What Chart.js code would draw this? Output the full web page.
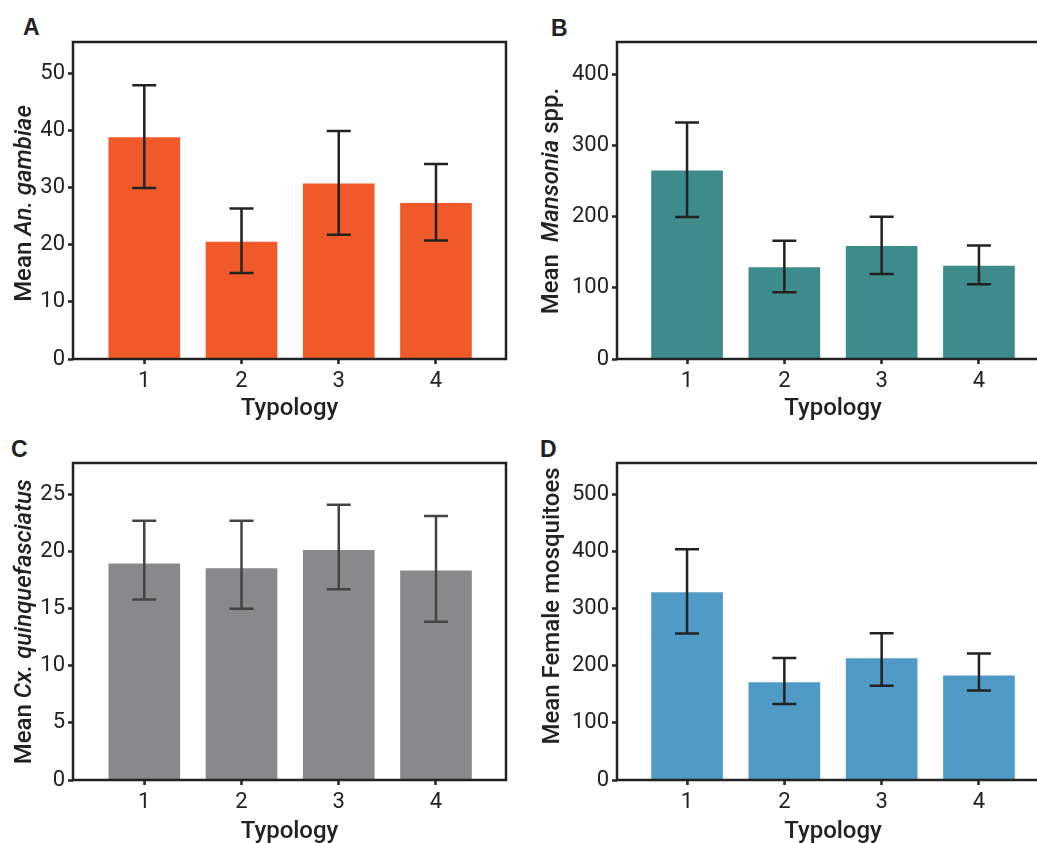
<!DOCTYPE html>
<html lang="en">

<head>
    <meta charset="UTF-8">
    <title>Mean mosquitoes by typology</title>
    <script src="https://cdn.jsdelivr.net/npm/chart.js"></script>
    <style>
        body {
            margin: 0;
            background: #fff;
            overflow: hidden;
            width: 1037px;
            height: 843px;
            position: relative;
        }

        canvas {
            position: absolute;
        }

        .letter {
            position: absolute;
            font: bold 23px "Liberation Sans", Arial, sans-serif;
            line-height: 23px;
            color: #222;
        }
    </style>
</head>

<body>
    <div class="letter" style="left:23px; top:16px">A</div>
    <div class="letter" style="left:551px; top:17px">B</div>
    <div class="letter" style="left:11px; top:438px">C</div>
    <div class="letter" style="left:540px; top:438px">D</div>

    <canvas id="chartA" width="520" height="420" style="left:0; top:0"></canvas>
    <canvas id="chartB" width="540" height="420" style="left:520px; top:0"></canvas>
    <canvas id="chartC" width="520" height="423" style="left:0; top:420px"></canvas>
    <canvas id="chartD" width="540" height="423" style="left:520px; top:420px"></canvas>

    <script>
        // categories
        const typology = [1, 2, 3, 4];

        // A - An. gambiae
        const gambiaeMean = [39.0, 20.7, 30.9, 27.5];
        const gambiaeLow = [30.0, 15.1, 21.8, 20.8];
        const gambiaeHigh = [48.0, 26.4, 40.0, 34.2];
        const gambiaeTicks = [0, 10, 20, 30, 40, 50];

        // B - Mansonia spp.
        const mansoniaMean = [265.7, 129.6, 159.5, 132.0];
        const mansoniaLow = [199.3, 93.6, 119.3, 104.8];
        const mansoniaHigh = [332.0, 166.0, 199.7, 159.5];
        const mansoniaTicks = [0, 100, 200, 300, 400];

        // C - Cx. quinquefasciatus
        const culexMean = [19.0, 18.6, 20.2, 18.4];
        const culexLow = [15.8, 15.0, 16.7, 13.85];
        const culexHigh = [22.7, 22.7, 24.1, 23.1];
        const culexTicks = [0, 5, 10, 15, 20, 25];

        // D - all female mosquitoes
        const femaleMean = [330.0, 172.6, 214.7, 184.3];
        const femaleLow = [256.7, 133.0, 165.0, 157.0];
        const femaleHigh = [404.4, 214.0, 257.3, 221.7];
        const femaleTicks = [0, 100, 200, 300, 400, 500];

        const ink = '#222';
        const tickFont = { family: 'Roboto', size: 22 };
        const titleFont = { family: 'Roboto', size: 24, weight: '500' };

        // draws the frame, the error bars and the mixed-style y title
        const panelExtras = {
            id: 'panelExtras',
            afterDatasetsDraw(chart, args, opts) {
                const ctx = chart.ctx;
                const area = chart.chartArea;
                const x = chart.scales.x;
                const y = chart.scales.y;

                ctx.save();
                ctx.strokeStyle = ink;
                ctx.lineWidth = 2.5;
                ctx.strokeRect(area.left, area.top, area.right - area.left, area.bottom - area.top);

                // error bars
                ctx.strokeStyle = opts.barColor;
                ctx.lineWidth = 2.5;
                typology.forEach((t, i) => {
                    const px = x.getPixelForValue(t);
                    const lo = y.getPixelForValue(opts.low[i]);
                    const hi = y.getPixelForValue(opts.high[i]);
                    ctx.beginPath();
                    ctx.moveTo(px, lo);
                    ctx.lineTo(px, hi);
                    ctx.moveTo(px - 12, lo);
                    ctx.lineTo(px + 12, lo);
                    ctx.moveTo(px - 12, hi);
                    ctx.lineTo(px + 12, hi);
                    ctx.stroke();
                });

                // y axis title, pieces can be italic
                ctx.fillStyle = ink;
                ctx.textBaseline = 'alphabetic';
                ctx.textAlign = 'left';
                const fonts = opts.title.map(p => (p[1] ? 'italic ' : '') + '500 24px Roboto');
                let total = 0;
                opts.title.forEach((p, i) => {
                    ctx.font = fonts[i];
                    total += ctx.measureText(p[0]).width;
                });
                ctx.translate(opts.titleX, opts.titleY);
                ctx.rotate(-Math.PI / 2);
                let pos = -total / 2;
                opts.title.forEach((p, i) => {
                    ctx.font = fonts[i];
                    ctx.fillText(p[0], pos, 0);
                    pos += ctx.measureText(p[0]).width;
                });
                ctx.restore();
            }
        };

        function makePanel(id, cfg) {
            return new Chart(document.getElementById(id), {
                type: 'bar',
                data: {
                    datasets: [{
                        data: typology.map((t, i) => ({ x: t, y: cfg.mean[i] })),
                        backgroundColor: cfg.color,
                        borderColor: 'rgba(255,255,255,0.45)',
                        borderWidth: 1,
                        barThickness: 73
                    }]
                },
                plugins: [panelExtras],
                options: {
                    responsive: false,
                    animation: false,
                    devicePixelRatio: 1,
                    layout: { padding: { top: cfg.top, right: cfg.right, left: 0, bottom: 0 } },
                    plugins: {
                        legend: { display: false },
                        tooltip: { enabled: false },
                        panelExtras: {
                            low: cfg.low,
                            high: cfg.high,
                            barColor: cfg.errColor || ink,
                            title: cfg.title,
                            titleX: cfg.titleX,
                            titleY: cfg.titleY
                        }
                    },
                    scales: {
                        x: {
                            type: 'linear',
                            offset: false,
                            min: cfg.xMin,
                            max: cfg.xMax,
                            afterBuildTicks: s => { s.ticks = typology.map(v => ({ value: v })); },
                            afterFit: s => { s.height = cfg.xHeight; },
                            ticks: { font: tickFont, color: ink, padding: 4, maxRotation: 0 },
                            grid: { offset: false, drawOnChartArea: false, drawTicks: true, tickLength: 5, tickWidth: 2.5, tickColor: ink },
                            border: { display: false },
                            title: { display: true, text: 'Typology', font: titleFont, color: ink, padding: { top: 0, bottom: -3 } }
                        },
                        y: {
                            min: 0,
                            max: cfg.yMax,
                            afterBuildTicks: s => { s.ticks = cfg.ticks.map(v => ({ value: v })); },
                            afterFit: s => { s.width = cfg.yWidth; },
                            ticks: { font: tickFont, color: ink, padding: 3 },
                            grid: { drawOnChartArea: false, drawTicks: true, tickLength: 5, tickWidth: 2.5, tickColor: ink },
                            border: { display: false }
                        }
                    }
                }
            });
        }

        makePanel('chartA', {
            mean: gambiaeMean, low: gambiaeLow, high: gambiaeHigh, ticks: gambiaeTicks,
            color: '#F05A2A', yMax: 55.6, xMin: 0.267, xMax: 4.72,
            top: 42, right: 14, yWidth: 73, xHeight: 61,
            title: [['Mean ', false], ['An. gambiae', true]], titleX: 30.5, titleY: 203.5
        });

        makePanel('chartB', {
            mean: mansoniaMean, low: mansoniaLow, high: mansoniaHigh, ticks: mansoniaTicks,
            color: '#3D8B8A', yMax: 445, xMin: 0.28, xMax: 4.72,
            top: 42, right: 11, yWidth: 97, xHeight: 61,
            title: [['Mean  ', false], ['Mansonia', true], [' spp.', false]], titleX: 37.5, titleY: 201
        });

        makePanel('chartC', {
            mean: culexMean, low: culexLow, high: culexHigh, ticks: culexTicks,
            color: '#89898B', errColor: '#444', yMax: 27.75, xMin: 0.267, xMax: 4.72,
            top: 43, right: 14, yWidth: 73, xHeight: 63,
            title: [['Mean ', false], ['Cx. quinquefasciatus', true]], titleX: 30.5, titleY: 201.7
        });

        makePanel('chartD', {
            mean: femaleMean, low: femaleLow, high: femaleHigh, ticks: femaleTicks,
            color: '#4F9BC6', yMax: 555.5, xMin: 0.28, xMax: 4.72,
            top: 43, right: 11, yWidth: 97, xHeight: 63,
            title: [['Mean Female mosquitoes', false]], titleX: 38.5, titleY: 186
        });
    </script>
</body>

</html>
